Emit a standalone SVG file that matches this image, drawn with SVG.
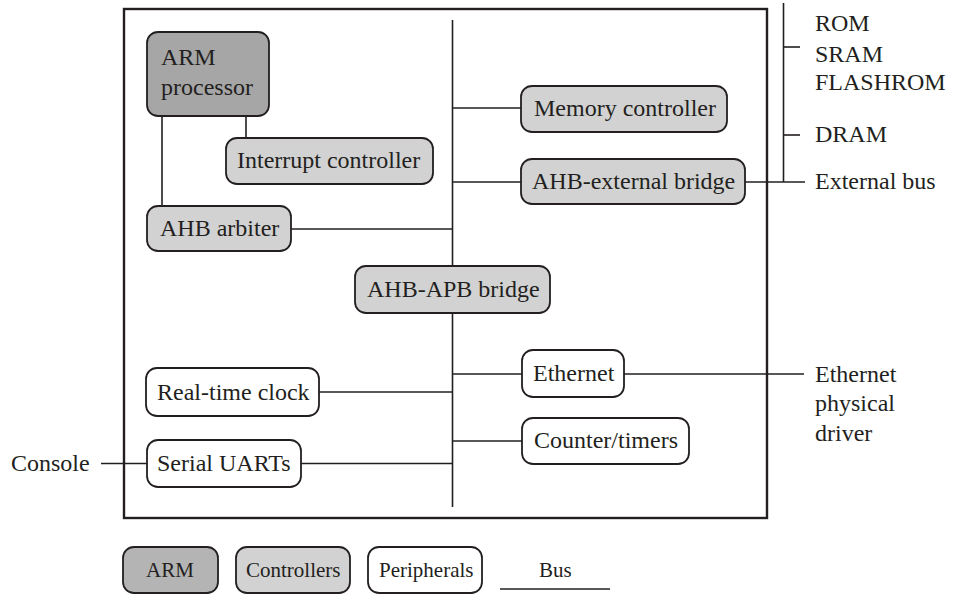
<svg xmlns="http://www.w3.org/2000/svg" width="954" height="595" viewBox="0 0 954 595">
<style>
text{font-size:24px;fill:#231f20}
.lg{font-size:21px}
.box{stroke:#231f20;stroke-width:1.8}
.arm{fill:#a6a6a6}
.armL{fill:#b4b4b4}
.ctl{fill:#d2d2d2}
.per{fill:#ffffff}
.ln{stroke:#231f20;stroke-width:1.6;fill:none}
</style>
<rect width="954" height="595" fill="#fff"/>
<g font-family="Liberation Serif, Times New Roman, DejaVu Serif, serif">
<rect x="124" y="9" width="643" height="509" fill="none" stroke="#231f20" stroke-width="2.4"/>
<g id="connectors">
<line class="ln" x1="452.5" y1="20" x2="452.5" y2="507"/>
<line class="ln" x1="162" y1="116" x2="162" y2="206"/>
<line class="ln" x1="246" y1="116" x2="246" y2="138"/>
<line class="ln" x1="291" y1="229" x2="452.5" y2="229"/>
<line class="ln" x1="452.5" y1="108" x2="521" y2="108"/>
<line class="ln" x1="452.5" y1="182" x2="521" y2="182"/>
<line class="ln" x1="745" y1="182" x2="805" y2="182"/>
<line class="ln" x1="783.5" y1="3" x2="783.5" y2="182"/>
<line class="ln" x1="783.5" y1="47" x2="800" y2="47"/>
<line class="ln" x1="783.5" y1="135" x2="800" y2="135"/>
<line class="ln" x1="452.5" y1="374" x2="522" y2="374"/>
<line class="ln" x1="624" y1="374" x2="804" y2="374"/>
<line class="ln" x1="452.5" y1="441" x2="522" y2="441"/>
<line class="ln" x1="319" y1="392" x2="452.5" y2="392"/>
<line class="ln" x1="301" y1="463.5" x2="452.5" y2="463.5"/>
<line class="ln" x1="101" y1="463.5" x2="147" y2="463.5"/>
</g>
<g id="arm">
<rect class="box arm" x="147" y="32" width="122" height="84" rx="11"/>
<text x="161" y="65">ARM</text>
<text x="161" y="95">processor</text>
</g>
<g id="interrupt">
<rect class="box ctl" x="226" y="138" width="207" height="46" rx="11"/>
<text x="237" y="168">Interrupt controller</text>
</g>
<g id="arbiter">
<rect class="box ctl" x="147" y="206" width="144" height="45" rx="11"/>
<text x="160" y="236">AHB arbiter</text>
</g>
<g id="memctl">
<rect class="box ctl" x="521" y="86" width="206" height="46" rx="11"/>
<text x="534" y="116">Memory controller</text>
</g>
<g id="extbridge">
<rect class="box ctl" x="521" y="159" width="224" height="45" rx="11"/>
<text x="532" y="189">AHB-external bridge</text>
</g>
<g id="apbbridge">
<rect class="box ctl" x="355" y="266" width="195" height="47" rx="11"/>
<text x="367" y="297">AHB-APB bridge</text>
</g>
<g id="ethernet">
<rect class="box per" x="522" y="350" width="102" height="47" rx="11"/>
<text x="533" y="381">Ethernet</text>
</g>
<g id="counter">
<rect class="box per" x="522" y="418" width="167" height="46" rx="11"/>
<text x="534" y="448">Counter/timers</text>
</g>
<g id="rtc">
<rect class="box per" x="146" y="368" width="173" height="48" rx="11"/>
<text x="157" y="400">Real-time clock</text>
</g>
<g id="uart">
<rect class="box per" x="147" y="440" width="154" height="47" rx="11"/>
<text x="157" y="471">Serial UARTs</text>
</g>
<g id="labels">
<text x="815" y="31">ROM</text>
<text x="815" y="62">SRAM</text>
<text x="815" y="90">FLASHROM</text>
<text x="815" y="142">DRAM</text>
<text x="815" y="189">External bus</text>
<text x="815" y="382">Ethernet</text>
<text x="815" y="411">physical</text>
<text x="815" y="441">driver</text>
<text x="11" y="471">Console</text>
</g>
<g id="legend">
<rect class="box armL" x="123" y="547" width="95" height="46" rx="11"/>
<text class="lg" x="146" y="577">ARM</text>
<rect class="box ctl" x="236" y="547" width="114" height="46" rx="11"/>
<text class="lg" x="246" y="577">Controllers</text>
<rect class="box per" x="368" y="547" width="114" height="46" rx="11"/>
<text class="lg" x="379" y="577">Peripherals</text>
<line class="ln" x1="500" y1="589" x2="610" y2="589"/>
<text class="lg" x="539" y="577">Bus</text>
</g>
</g>
</svg>
